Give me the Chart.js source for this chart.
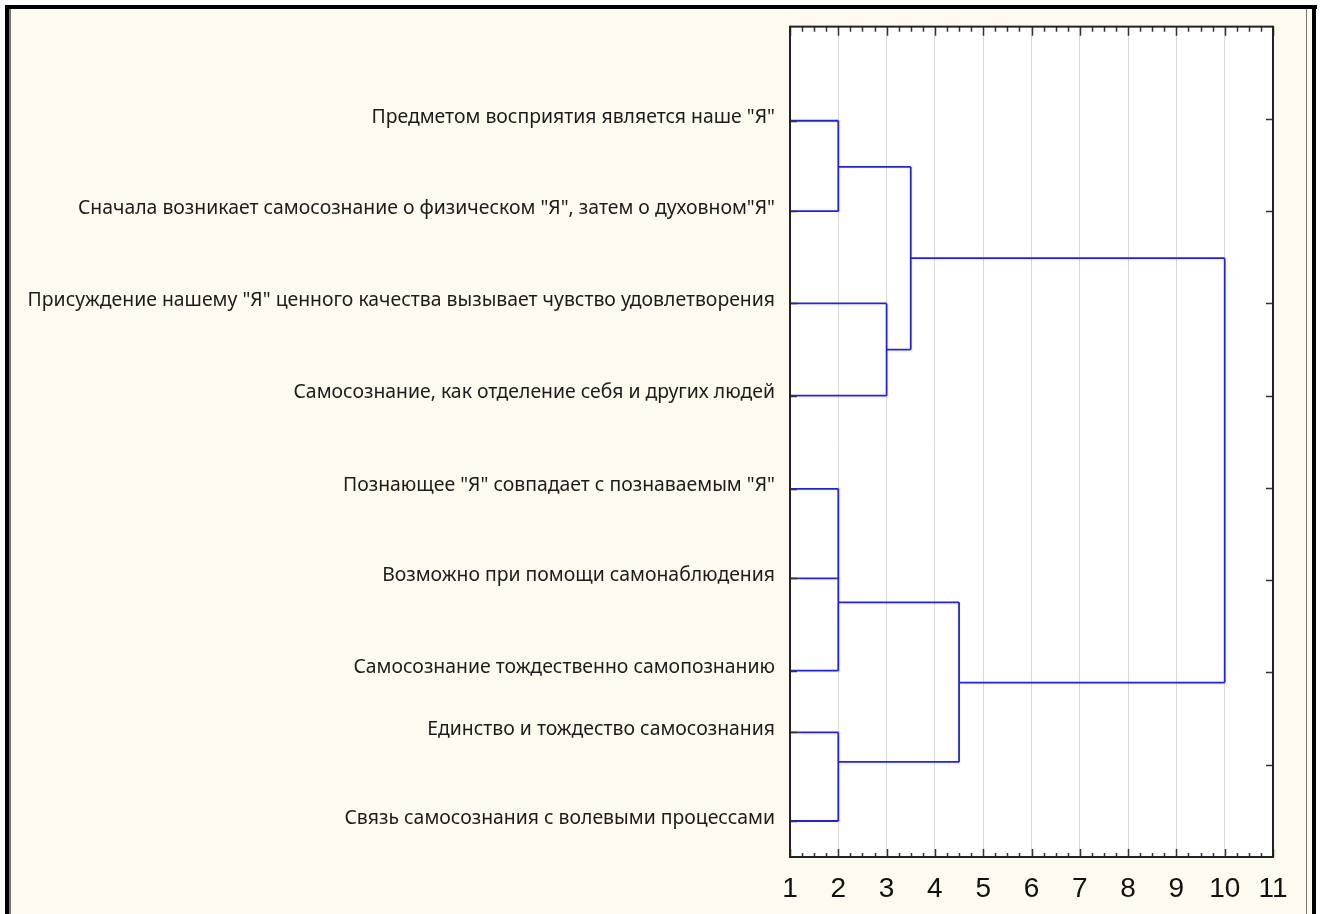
<!DOCTYPE html>
<html>
<head>
<meta charset="utf-8">
<script src="https://cdn.jsdelivr.net/npm/chart.js@4/dist/chart.umd.min.js"></script>
<style>
  html, body { margin: 0; padding: 0; background: #fff; }
  #wrap { width: 1323px; height: 914px; position: relative; }
</style>
</head>
<body>
<div id="wrap"><canvas id="dendro-graph"></canvas></div>
<script>
/**
 * Chart data
 */
const leafLabels = [
    'Предметом восприятия является наше "Я"',
    'Сначала возникает самосознание о физическом "Я", затем о духовном"Я"',
    'Присуждение нашему "Я" ценного качества вызывает чувство удовлетворения',
    'Самосознание, как отделение себя и других людей',
    'Познающее "Я" совпадает с познаваемым "Я"',
    'Возможно при помощи самонаблюдения',
    'Самосознание тождественно самопознанию',
    'Единство и тождество самосознания',
    'Связь самосознания с волевыми процессами'
];
// leaf row positions (rows counted from the top of the plot)
const leafY = [1.02, 2.0, 3.0, 4.0, 5.01, 5.98, 6.98, 7.65, 8.61];
// merges: node ids 0-8 are leaves, 9.. are the merges in this order
const mergeChildren = [[0, 1], [2, 3], [9, 10], [4, 5, 6], [7, 8], [12, 13], [11, 14]];
const mergeDist = [2, 3, 3.5, 2, 2, 4.5, 10];
const mergeY = [1.52, 3.5, 2.51, 6.24, 7.97, 7.11, 4.8];
const xTicks = [1, 2, 3, 4, 5, 6, 7, 8, 9, 10, 11];
const rightTicks = [1, 2, 3, 4, 5, 6, 7, 8];

/**
 * Build the line segments of the tree
 */
const nodeX = leafY.map(() => 1).concat(mergeDist);
const nodeY = leafY.concat(mergeY);
const segments = [];
mergeChildren.forEach((children, i) => {
    const d = mergeDist[i];
    const ys = children.map(c => nodeY[c]);
    children.forEach(c => {
        segments.push([{x: nodeX[c], y: nodeY[c]}, {x: d, y: nodeY[c]}]);
    });
    segments.push([{x: d, y: Math.min(...ys)}, {x: d, y: Math.max(...ys)}]);
});

const lineColor = 'rgb(30, 30, 250)';
const datasets = segments.map(seg => ({
    data: seg,
    showLine: true,
    borderColor: lineColor,
    borderWidth: 1.8,
    pointRadius: 0,
    pointHoverRadius: 0
}));

//background + frame plugin
const framePlugin = {
    id: 'frame',
    beforeDraw(chart) {
        const ctx = chart.ctx;
        const a = chart.chartArea;
        ctx.save();
        ctx.fillStyle = '#ffffff';
        ctx.fillRect(0, 0, chart.width, chart.height);
        ctx.fillStyle = 'rgb(255, 250, 239)';
        ctx.fillRect(9, 9, 1303, chart.height - 9);
        ctx.fillStyle = '#000';
        ctx.fillRect(5, 5, 1312, 4);
        ctx.fillRect(5, 5, 4, chart.height);
        ctx.fillRect(1312, 5, 4, chart.height);
        ctx.fillStyle = '#777';
        ctx.fillRect(9, 9, 2, chart.height);
        ctx.fillRect(1306, 9, 1, chart.height);
        ctx.fillStyle = '#fff';
        ctx.fillRect(a.left, a.top, a.right - a.left, a.bottom - a.top);
        ctx.restore();
    },
    afterDatasetsDraw(chart) {
        const ctx = chart.ctx;
        const a = chart.chartArea;
        const xs = chart.scales.x;
        const ys = chart.scales.y;
        ctx.save();
        ctx.strokeStyle = '#333';
        ctx.lineWidth = 1.5;
        ctx.beginPath();
        // top and bottom ticks, minor every quarter
        for (let v = 1; v <= 11.001; v += 0.25) {
            const px = Math.round(xs.getPixelForValue(v)) + 0.5;
            const major = Math.abs(v - Math.round(v)) < 0.01;
            ctx.moveTo(px, a.top);
            ctx.lineTo(px, a.top + (major ? 9 : 5));
            ctx.moveTo(px, a.bottom);
            ctx.lineTo(px, a.bottom - (major ? 8 : 4));
        }
        leafY.forEach(v => {
            const py = Math.round(ys.getPixelForValue(v)) + 0.5;
            ctx.moveTo(a.left, py);
            ctx.lineTo(a.left + 7, py);
        });
        rightTicks.forEach(v => {
            const py = Math.round(ys.getPixelForValue(v)) + 0.5;
            ctx.moveTo(a.right, py);
            ctx.lineTo(a.right - 7, py);
        });
        ctx.stroke();
        ctx.strokeStyle = '#222';
        ctx.lineWidth = 2;
        ctx.strokeRect(a.left, a.top, a.right - a.left, a.bottom - a.top);
        ctx.restore();
    }
};

let dendroConfig = {
    type: 'scatter',
    data: { datasets: datasets },
    plugins: [framePlugin],
    options: {
        responsive: true,
        maintainAspectRatio: false,
        animation: false,
        layout: { padding: { top: 25, right: 50, left: 0, bottom: 0 } },
        plugins: {
            legend: { display: false },
            tooltip: { enabled: false }
        },
        scales: {
            x: {
                type: 'linear',
                min: 1,
                max: 11,
                afterBuildTicks: scale => { scale.ticks = xTicks.map(v => ({value: v})); },
                afterFit: scale => { scale.height = 57; },
                grid: { color: '#d8d8d8', lineWidth: 1, drawTicks: false },
                border: { display: false },
                ticks: {
                    padding: 15,
                    color: '#111',
                    font: { family: 'Liberation Sans', size: 28 }
                }
            },
            y: {
                type: 'linear',
                reverse: true,
                min: 0,
                max: 9,
                afterBuildTicks: scale => { scale.ticks = leafY.map(v => ({value: v})); },
                afterFit: scale => { scale.width = 790; },
                grid: { display: false, drawTicks: false },
                border: { display: false },
                ticks: {
                    padding: 15,
                    labelOffset: -3,
                    color: '#1c1c1c',
                    font: { family: 'Noto Sans', size: 19.4 },
                    callback: (value) => {
                        const i = leafY.indexOf(value);
                        return i >= 0 ? leafLabels[i] : '';
                    }
                }
            }
        }
    }
};

const dendroChart = new Chart(
    document.getElementById('dendro-graph'),
    dendroConfig
);
</script>
</body>
</html>
